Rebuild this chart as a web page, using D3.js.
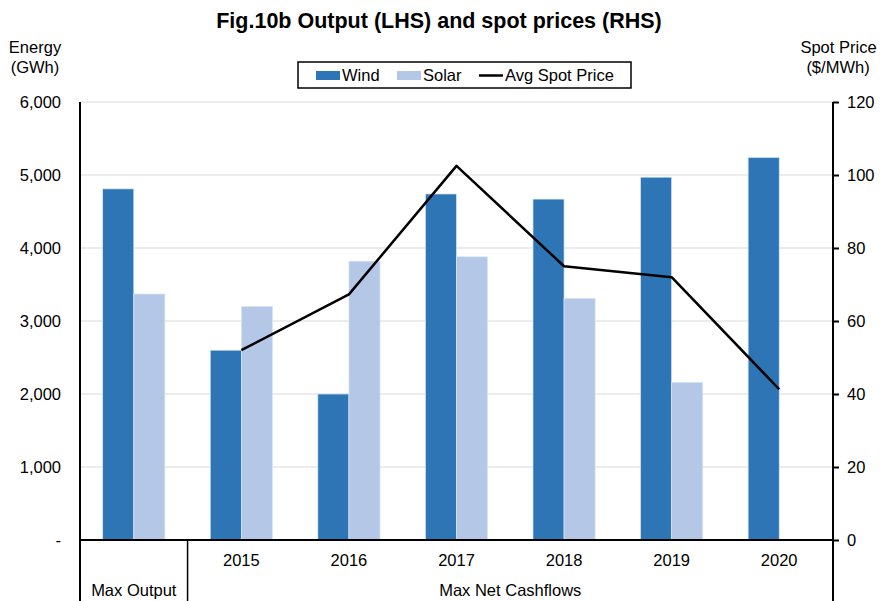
<!DOCTYPE html>
<html>
<head>
<meta charset="utf-8">
<script src="https://cdn.jsdelivr.net/npm/d3@7"></script>
<style>
  body { margin: 0; background: #fff; }
  text { font-family: "Liberation Sans", Arial, sans-serif; fill: #000; }
</style>
</head>
<body>
<div id="chart"></div>
<script>
// chart data
var categories = ["Max Output", "2015", "2016", "2017", "2018", "2019", "2020"];
var windValues = [4810, 2600, 2000, 4740, 4670, 4970, 5240];
var solarValues = [3370, 3200, 3820, 3880, 3310, 2160, 0];
var priceYears = ["2015", "2016", "2017", "2018", "2019", "2020"];
var priceValues = [52, 67.3, 102.5, 75, 72, 41.3];
var leftTicks = [0, 1000, 2000, 3000, 4000, 5000, 6000];
var rightTicks = [0, 20, 40, 60, 80, 100, 120];
var seriesNames = ["Wind", "Solar"];

var width = 880, height = 601;
var plotLeft = 80, plotRight = 833, plotTop = 102, plotBottom = 540;
var colors = { Wind: "#2E75B6", Solar: "#B4C7E7" };

var svg = d3.select("#chart").append("svg")
    .attr("width", width)
    .attr("height", height);

// scales
var x0 = d3.scaleBand().domain(categories).range([plotLeft, plotRight]).padding(0);
var x1 = d3.scaleBand().domain(seriesNames).range([0, x0.bandwidth()])
    .paddingInner(0).paddingOuter(0.73);
var yL = d3.scaleLinear().domain([0, 6000]).range([plotBottom, plotTop]);
var yR = d3.scaleLinear().domain([0, 120]).range([plotBottom, plotTop]);

// gridlines
svg.append("g").selectAll("line")
    .data(leftTicks.filter(function(d) { return d > 0; }))
    .join("line")
    .attr("x1", plotLeft).attr("x2", plotRight)
    .attr("y1", function(d) { return yL(d); })
    .attr("y2", function(d) { return yL(d); })
    .attr("stroke", "#d9d9d9")
    .attr("stroke-width", 1);

// bars
var rows = categories.map(function(c, i) {
    return { cat: c, values: [{ key: "Wind", v: windValues[i] }, { key: "Solar", v: solarValues[i] }] };
});

var groups = svg.append("g").selectAll("g")
    .data(rows)
    .join("g")
    .attr("transform", function(d) { return "translate(" + x0(d.cat) + ",0)"; });

groups.selectAll("rect")
    .data(function(d) { return d.values.filter(function(e) { return e.v > 0; }); })
    .join("rect")
    .attr("x", function(d) { return x1(d.key); })
    .attr("width", x1.bandwidth())
    .attr("y", function(d) { return yL(d.v); })
    .attr("height", function(d) { return plotBottom - yL(d.v); })
    .attr("fill", function(d) { return colors[d.key]; })
    .attr("stroke", "#dbe6f5")
    .attr("stroke-width", 0.7);

// spot price line
var line = d3.line()
    .x(function(d) { return x0(d.year) + x0.bandwidth() / 2; })
    .y(function(d) { return yR(d.v); });

svg.append("path")
    .datum(priceYears.map(function(y, i) { return { year: y, v: priceValues[i] }; }))
    .attr("d", line)
    .attr("fill", "none")
    .attr("stroke", "#000")
    .attr("stroke-width", 2.5)
    .attr("stroke-linejoin", "round");

// left axis
var leftAxis = d3.axisLeft(yL).tickValues(leftTicks).tickSize(0).tickPadding(19)
    .tickFormat(function(d) { return d === 0 ? "-" : d3.format(",")(d); });
var gL = svg.append("g").attr("transform", "translate(" + plotLeft + ",0)").call(leftAxis);
gL.select(".domain").remove();
gL.selectAll("text").style("font-size", "16.5px").style("font-family", "Liberation Sans, Arial, sans-serif");

// right axis
var rightAxis = d3.axisRight(yR).tickValues(rightTicks).tickSize(6).tickPadding(8);
var gR = svg.append("g").attr("transform", "translate(" + plotRight + ",0)").call(rightAxis);
gR.select(".domain").remove();
gR.selectAll("line").attr("stroke", "#000").attr("stroke-width", 2);
gR.selectAll("text").style("font-size", "16.5px").style("font-family", "Liberation Sans, Arial, sans-serif");

// axis lines (extend down to bottom for category table)
svg.append("line").attr("x1", plotLeft).attr("x2", plotLeft).attr("y1", plotTop).attr("y2", height)
    .attr("stroke", "#000").attr("stroke-width", 2);
svg.append("line").attr("x1", plotRight).attr("x2", plotRight).attr("y1", plotTop).attr("y2", height)
    .attr("stroke", "#000").attr("stroke-width", 2);
svg.append("line").attr("x1", plotLeft).attr("x2", plotRight).attr("y1", plotBottom).attr("y2", plotBottom)
    .attr("stroke", "#000").attr("stroke-width", 2);
var divX = x0("2015");
svg.append("line").attr("x1", divX).attr("x2", divX).attr("y1", plotBottom).attr("y2", height)
    .attr("stroke", "#000").attr("stroke-width", 1.5);

// category labels
svg.append("g").selectAll("text")
    .data(priceYears)
    .join("text")
    .attr("x", function(d) { return x0(d) + x0.bandwidth() / 2; })
    .attr("y", 566)
    .attr("text-anchor", "middle")
    .style("font-size", "16.5px")
    .text(function(d) { return d; });

svg.append("text")
    .attr("x", x0("Max Output") + x0.bandwidth() / 2)
    .attr("y", 596)
    .attr("text-anchor", "middle")
    .style("font-size", "16.5px")
    .text("Max Output");

svg.append("text")
    .attr("x", (divX + plotRight) / 2)
    .attr("y", 596)
    .attr("text-anchor", "middle")
    .style("font-size", "16.5px")
    .text("Max Net Cashflows");

// title
svg.append("text")
    .attr("x", 439)
    .attr("y", 28)
    .attr("text-anchor", "middle")
    .style("font-size", "21.5px")
    .style("font-weight", "bold")
    .text("Fig.10b Output (LHS) and spot prices (RHS)");

// axis titles
svg.append("text").attr("x", 35).attr("y", 53).attr("text-anchor", "middle")
    .style("font-size", "16.5px").text("Energy");
svg.append("text").attr("x", 35).attr("y", 73).attr("text-anchor", "middle")
    .style("font-size", "16.5px").text("(GWh)");
svg.append("text").attr("x", 838.5).attr("y", 53).attr("text-anchor", "middle")
    .style("font-size", "16.5px").text("Spot Price");
svg.append("text").attr("x", 838).attr("y", 73).attr("text-anchor", "middle")
    .style("font-size", "16.5px").text("($/MWh)");

// legend
var legend = svg.append("g");
legend.append("rect").attr("x", 298).attr("y", 62).attr("width", 333).attr("height", 26)
    .attr("fill", "#fff").attr("stroke", "#000").attr("stroke-width", 1.5);
legend.append("rect").attr("x", 316).attr("y", 71).attr("width", 24).attr("height", 9)
    .attr("fill", colors.Wind);
legend.append("text").attr("x", 342).attr("y", 81).style("font-size", "16.5px").text("Wind");
legend.append("rect").attr("x", 397).attr("y", 71).attr("width", 24).attr("height", 9)
    .attr("fill", colors.Solar);
legend.append("text").attr("x", 423).attr("y", 81).style("font-size", "16.5px").text("Solar");
legend.append("line").attr("x1", 479).attr("x2", 503).attr("y1", 75.5).attr("y2", 75.5)
    .attr("stroke", "#000").attr("stroke-width", 2.5);
legend.append("text").attr("x", 505).attr("y", 81).style("font-size", "16.5px").text("Avg Spot Price");
</script>
</body>
</html>
